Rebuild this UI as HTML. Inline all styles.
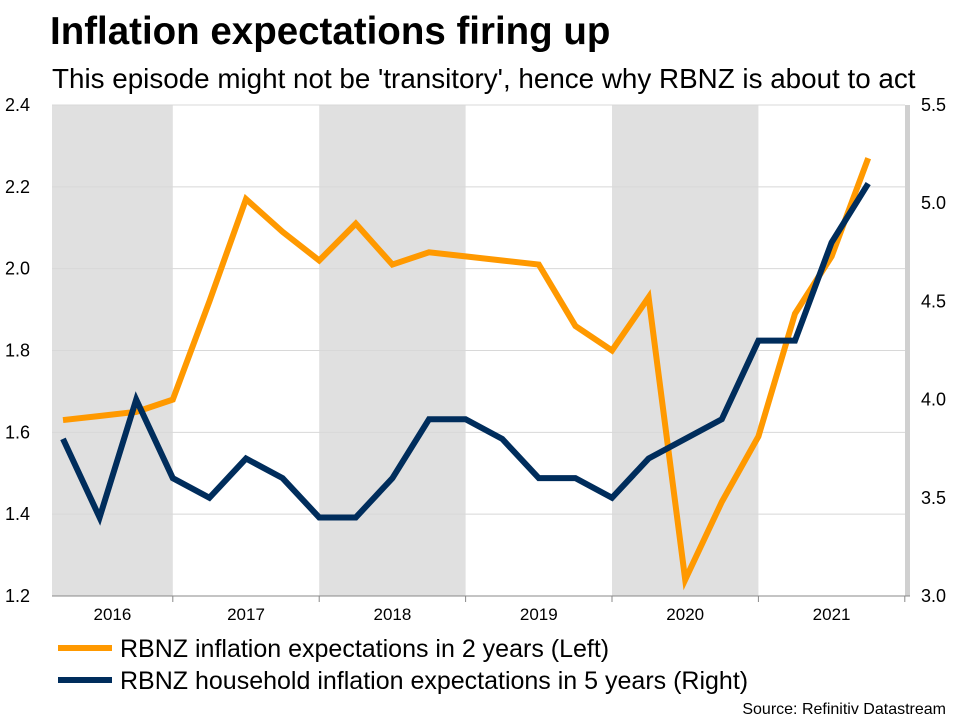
<!DOCTYPE html>
<html><head><meta charset="utf-8"><style>
body{margin:0;background:#fff;font-family:"Liberation Sans",Arial,sans-serif;}
svg text{font-family:"Liberation Sans",Arial,sans-serif;}
</style></head><body>
<svg id="c" width="960" height="720" xmlns="http://www.w3.org/2000/svg">
<text x="50" y="44" font-size="38.5" font-weight="bold" fill="#000">Inflation expectations firing up</text>
<text x="52" y="88" font-size="27.8" fill="#000">This episode might not be 'transitory', hence why RBNZ is about to act</text>
<g id="plot"></g>
<line x1="58" y1="648" x2="112" y2="648" stroke="#FF9900" stroke-width="6"/>
<text x="120" y="657" font-size="25">RBNZ inflation expectations in 2 years (Left)</text>
<line x1="58" y1="680" x2="112" y2="680" stroke="#002D5C" stroke-width="6"/>
<text x="120" y="689" font-size="25">RBNZ household inflation expectations in 5 years (Right)</text>
<text x="946" y="714" font-size="16" text-anchor="end">Source: Refinitiv Datastream</text>
</svg>
<script>
const years=['2016','2017','2018','2019','2020','2021'];
const leftTicks=[1.2,1.4,1.6,1.8,2.0,2.2,2.4];
const rightTicks=[3.0,3.5,4.0,4.5,5.0,5.5];
const twoYear=[1.63,1.64,1.65,1.68,1.92,2.17,2.09,2.02,2.11,2.01,2.04,2.03,2.02,2.01,1.86,1.80,1.93,1.24,1.43,1.59,1.89,2.03,2.27];
const household5y=[3.8,3.4,4.0,3.6,3.5,3.7,3.6,3.4,3.4,3.6,3.9,3.9,3.8,3.6,3.6,3.5,3.7,3.8,3.9,4.3,4.3,4.8,5.1];
const NS='http://www.w3.org/2000/svg';
const g=document.getElementById('plot');
const X0=52,X1=905,TOP=105,BOT=596;
const xq=i=>63+i*36.6;
const yl=v=>BOT-(v-1.2)/1.2*(BOT-TOP);
const yr=v=>BOT-(v-3.0)/2.5*(BOT-TOP);
function mk(t,a){const e=document.createElementNS(NS,t);for(const k in a)e.setAttribute(k,a[k]);g.appendChild(e);return e;}
years.forEach((y,k)=>{
 const a=Math.max(X0,xq(4*k-1)),b=Math.min(X1,xq(4*k+3));
 if(k%2===0){const r=mk('rect',{x:a,y:TOP,width:b-a,height:BOT-TOP,fill:'#E0E0E0'});
 
 }
 const t=mk('text',{x:(a+b)/2,y:620,'font-size':17,'text-anchor':'middle'});t.textContent=y;
 
 
 const tk=mk('line',{x1:b,y1:BOT,x2:b,y2:BOT+6,stroke:'#888'});
 
 
});
const strip=mk('rect',{x:905,y:TOP,width:5,height:BOT-TOP,fill:'#D0D0D0'});


leftTicks.forEach(v=>{
 const l=mk('line',{x1:X0,y1:yl(v),x2:X1,y2:yl(v),stroke:'#D8D8D8'});
 
 
 const t=mk('text',{x:5,y:yl(v)+6,'font-size':18});t.textContent=v.toFixed(1);
 
 
});
rightTicks.forEach(v=>{
 const t=mk('text',{x:921,y:yr(v)+6,'font-size':18});t.textContent=v.toFixed(1);
 
 
});
const ax=mk('line',{x1:X0,y1:BOT,x2:910,y2:BOT,stroke:'#888'});


const p1=mk('polyline',{points:twoYear.map((v,i)=>xq(i)+','+yl(v)).join(' '),fill:'none',stroke:'#FF9900','stroke-width':6,'stroke-linejoin':'miter'});


const p2=mk('polyline',{points:household5y.map((v,i)=>xq(i)+','+yr(v)).join(' '),fill:'none',stroke:'#002D5C','stroke-width':6,'stroke-linejoin':'miter'});


</script>
</body></html>
